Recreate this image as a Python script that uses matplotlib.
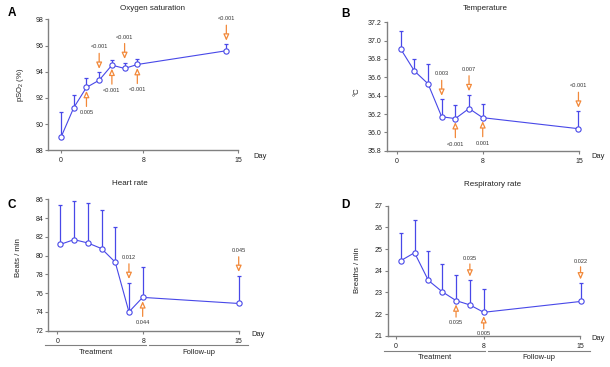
import matplotlib
matplotlib.use('Agg')
import matplotlib.pyplot as plt
from matplotlib.lines import Line2D
from matplotlib.transforms import offset_copy

plt.rcParams['font.family'] = ['Liberation Sans', 'DejaVu Sans']
plt.rcParams['mathtext.fontset'] = 'custom'
plt.rcParams['mathtext.rm'] = 'Liberation Sans'
plt.rcParams['mathtext.it'] = 'Liberation Sans:italic'

W, H = 610, 367
BLUE = '#4848e8'
ORANGE = '#f2893a'
GRAY = '#808080'
TXT = '#222222'

# ---------------- data ----------------
x_idx = [0, 1, 2, 3, 4, 5, 6, 13]          # measurement slots
day_labels = ['0', '8', '15']

o2_mean = [89.0, 91.25, 92.8, 93.35, 94.5, 94.25, 94.55, 95.6]
o2_sd = [1.9, 0.95, 0.75, 0.6, 0.4, 0.45, 0.4, 0.5]
o2_p = [(2, 'up', '0.005'), (3, 'down', '<0.001'), (4, 'up', '<0.001'),
        (5, 'down', '<0.001'), (6, 'up', '<0.001'), (7, 'down', '<0.001')]

temp_mean = [36.91, 36.67, 36.53, 36.17, 36.15, 36.26, 36.16, 36.04]
temp_sd = [0.19, 0.13, 0.21, 0.19, 0.15, 0.15, 0.15, 0.19]
temp_p = [(3, 'down', '0.003'), (4, 'up', '<0.001'), (5, 'down', '0.007'),
          (6, 'up', '0.001'), (7, 'down', '<0.001')]

hr_mean = [81.2, 81.7, 81.35, 80.75, 79.3, 74.0, 75.55, 74.9]
hr_sd = [4.2, 4.1, 4.25, 4.15, 3.75, 3.1, 3.2, 2.95]
hr_p = [(5, 'down', '0.012'), (6, 'up', '0.044'), (7, 'down', '0.045')]

rr_mean = [24.46, 24.83, 23.55, 23.03, 22.62, 22.42, 22.08, 22.58]
rr_sd = [1.28, 1.49, 1.37, 1.26, 1.18, 1.13, 1.06, 0.84]
rr_p = [(4, 'up', '0.035'), (5, 'down', '0.035'), (6, 'up', '0.005'),
        (7, 'down', '0.022')]

fig = plt.figure(figsize=(W / 100, H / 100), dpi=100)


def fx(px):
    return px / W


def fy(py):
    return 1 - py / H


panels = [
    dict(letter='A', title='Oxygen saturation', ylabel='pSO$_2$ (%)',
         mean=o2_mean, sd=o2_sd, pv=o2_p,
         rect=(48.3, 19.3, 238.3, 150.3), xlim=(-1.0, 13.94),
         xt=[0, 6.47, 13.94], ylim=(88, 98), ystep=2, fmt='{:.0f}',
         title_xy=(152, 8), letter_xy=(12, 13), ylab_xy=(21, 85),
         day_xy=(260, 156), arr=(3.5, 19, 25.5), period=None),
    dict(letter='B', title='Temperature', ylabel='°C',
         mean=temp_mean, sd=temp_sd, pv=temp_p,
         rect=(386.7, 22.3, 579, 150.7), xlim=(-1.02, 13.04),
         xt=[-0.29, 6.0, 13.04], ylim=(35.8, 37.2), ystep=0.2, fmt='{:.1f}',
         title_xy=(485, 8.5), letter_xy=(345, 14), ylab_xy=(357, 92),
         day_xy=(598, 157), arr=(3.5, 19, 25.5), period=None),
    dict(letter='C', title='Heart rate', ylabel='Beats / min',
         mean=hr_mean, sd=hr_sd, pv=hr_p,
         rect=(48, 199.3, 238.7, 330.7), xlim=(-0.9, 13.0),
         xt=[-0.22, 6.05, 13.0], ylim=(72, 86), ystep=2, fmt='{:.0f}',
         title_xy=(130, 183.5), letter_xy=(12, 205), ylab_xy=(18, 258),
         day_xy=(258, 334.5), arr=(3.8, 19, 25),
         period=dict(y=345, ly=352.7, tr=(45, 146), fu=(149, 248))),
    dict(letter='D', title='Respiratory rate', ylabel='Breaths / min',
         mean=rr_mean, sd=rr_sd, pv=rr_p,
         rect=(387.7, 205.7, 580, 335.7), xlim=(-0.94, 12.96),
         xt=[-0.34, 6.0, 12.96], ylim=(21, 27), ystep=1, fmt='{:.0f}',
         title_xy=(493, 184), letter_xy=(345, 205), ylab_xy=(357, 270),
         day_xy=(598, 338.5), arr=(3.8, 16.5, 21.5),
         period=dict(y=350.7, ly=357.5, tr=(384, 485), fu=(488, 590))),
]

for P in panels:
    l, t, r, b = P['rect']
    ax = fig.add_axes([fx(l), fy(b), (r - l) / W, (b - t) / H])
    ax.set_xlim(*P['xlim'])
    ax.set_ylim(*P['ylim'])
    for s in ['top', 'right']:
        ax.spines[s].set_visible(False)
    for s in ['left', 'bottom']:
        ax.spines[s].set_color(GRAY)
        ax.spines[s].set_linewidth(1.0)
    ax.patch.set_alpha(0)

    y0, y1 = P['ylim']
    n = int(round((y1 - y0) / P['ystep']))
    yt = [y0 + i * P['ystep'] for i in range(n + 1)]
    ax.set_yticks(yt)
    ax.set_yticklabels([P['fmt'].format(v) for v in yt])
    ax.set_xticks(P['xt'])
    ax.set_xticklabels(day_labels)
    ax.tick_params(axis='both', colors=GRAY, labelcolor=TXT, labelsize=5,
                   length=2, width=0.8, direction='out')
    ax.tick_params(axis='x', pad=3)
    ax.tick_params(axis='y', pad=1.5)

    mean, sd = P['mean'], P['sd']
    ax.errorbar(x_idx, mean, yerr=[[0] * len(sd), sd], fmt='none',
                ecolor=BLUE, elinewidth=0.9, capsize=1.4, capthick=0.9,
                clip_on=False, zorder=2)
    ax.plot(x_idx, mean, '-o', color=BLUE, mfc='white', mec=BLUE, ms=3.8,
            mew=0.8, lw=0.8, clip_on=False, zorder=3)

    tip, tail, txt = P['arr']
    for i, d, label in P['pv']:
        xv = x_idx[i]
        if d == 'down':
            yv = mean[i] + sd[i]
            s = 1
        else:
            yv = mean[i]
            s = -1
        tr_tip = offset_copy(ax.transData, fig=fig, x=0, y=s * tip, units='dots')
        tr_tail = offset_copy(ax.transData, fig=fig, x=0, y=s * tail, units='dots')
        tr_txt = offset_copy(ax.transData, fig=fig, x=0, y=s * txt, units='dots')
        ax.annotate('', xy=(xv, yv), xycoords=tr_tip,
                    xytext=(xv, yv), textcoords=tr_tail,
                    arrowprops=dict(arrowstyle='-|>,head_length=0.38,head_width=0.17',
                                    fc='white', ec=ORANGE, lw=0.9,
                                    shrinkA=0, shrinkB=0, mutation_scale=10),
                    annotation_clip=False, zorder=4)
        ax.text(xv, yv, label, transform=tr_txt, ha='center', va='center',
                fontsize=4.1, color='#333333', clip_on=False)

    fig.text(fx(P['title_xy'][0]), fy(P['title_xy'][1]), P['title'],
             ha='center', va='center', fontsize=5.8, color=TXT)
    fig.text(fx(P['letter_xy'][0]), fy(P['letter_xy'][1]), P['letter'],
             ha='center', va='center', fontsize=8.5, fontweight='bold',
             color='black')
    fig.text(fx(P['ylab_xy'][0]), fy(P['ylab_xy'][1]), P['ylabel'],
             ha='center', va='center', fontsize=5.6, color=TXT, rotation=90)
    fig.text(fx(P['day_xy'][0]), fy(P['day_xy'][1]), 'Day',
             ha='center', va='center', fontsize=5.4, color=TXT)

    per = P['period']
    if per:
        for (a, c), name in [(per['tr'], 'Treatment'), (per['fu'], 'Follow-up')]:
            fig.add_artist(Line2D([fx(a), fx(c)], [fy(per['y'])] * 2,
                                  transform=fig.transFigure, color=GRAY, lw=0.8))
            fig.text(fx((a + c) / 2), fy(per['ly']), name, ha='center',
                     va='center', fontsize=5.4, color=TXT)

fig.savefig('out.png', dpi=100)
